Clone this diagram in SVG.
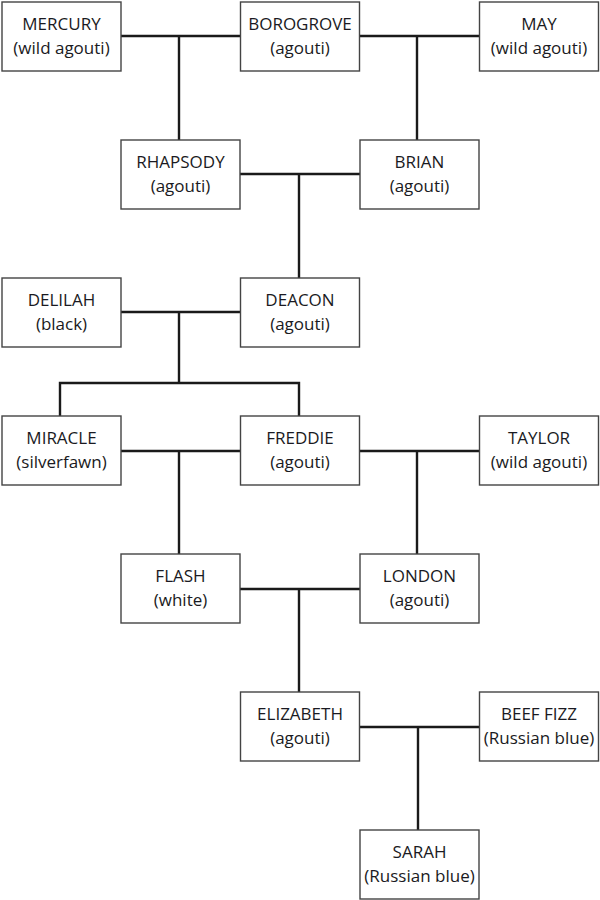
<svg xmlns="http://www.w3.org/2000/svg" width="600" height="900" viewBox="0 0 600 900">
<style>
.box{fill:#fff;stroke:#444;stroke-width:1.4}
.t{font-family:"Open Sans","Noto Sans","Liberation Sans",sans-serif;font-size:17px;fill:#1a1a22;text-anchor:middle}
.c{fill:none;stroke:#1a1a1a;stroke-width:2.4}
</style>
<rect width="600" height="900" fill="#fff"/>
<g id="connectors">
<path class="c" d="M121 36H240M179 36V140"/>
<path class="c" d="M360 36H479M417 36V140"/>
<path class="c" d="M240 174H360M299 174V278"/>
<path class="c" d="M121 312H240M179 312V383M60 416V383H299V416"/>
<path class="c" d="M121 451H240M179 451V554"/>
<path class="c" d="M360 451H479M417 451V554"/>
<path class="c" d="M240 589H360M299 589V692"/>
<path class="c" d="M360 727H479M418 727V830"/>
</g>
<g id="mercury"><rect class="box" x="2" y="2" width="119" height="69"/><text class="t" x="61.5" y="30">MERCURY</text><text class="t" x="61.5" y="54">(wild agouti)</text></g>
<g id="borogrove"><rect class="box" x="240.5" y="2" width="119" height="69"/><text class="t" x="300" y="30">BOROGROVE</text><text class="t" x="300" y="54">(agouti)</text></g>
<g id="may"><rect class="box" x="479.5" y="2" width="119" height="69"/><text class="t" x="539" y="30">MAY</text><text class="t" x="539" y="54">(wild agouti)</text></g>
<g id="rhapsody"><rect class="box" x="121" y="140" width="119" height="69"/><text class="t" x="180.5" y="168">RHAPSODY</text><text class="t" x="180.5" y="192">(agouti)</text></g>
<g id="brian"><rect class="box" x="360" y="140" width="119" height="69"/><text class="t" x="419.5" y="168">BRIAN</text><text class="t" x="419.5" y="192">(agouti)</text></g>
<g id="delilah"><rect class="box" x="2" y="278" width="119" height="69"/><text class="t" x="61.5" y="306">DELILAH</text><text class="t" x="61.5" y="330">(black)</text></g>
<g id="deacon"><rect class="box" x="240.5" y="278" width="119" height="69"/><text class="t" x="300" y="306">DEACON</text><text class="t" x="300" y="330">(agouti)</text></g>
<g id="miracle"><rect class="box" x="2" y="416" width="119" height="69"/><text class="t" x="61.5" y="444">MIRACLE</text><text class="t" x="61.5" y="468">(silverfawn)</text></g>
<g id="freddie"><rect class="box" x="240.5" y="416" width="119" height="69"/><text class="t" x="300" y="444">FREDDIE</text><text class="t" x="300" y="468">(agouti)</text></g>
<g id="taylor"><rect class="box" x="479.5" y="416" width="119" height="69"/><text class="t" x="539" y="444">TAYLOR</text><text class="t" x="539" y="468">(wild agouti)</text></g>
<g id="flash"><rect class="box" x="121" y="554" width="119" height="69"/><text class="t" x="180.5" y="582">FLASH</text><text class="t" x="180.5" y="606">(white)</text></g>
<g id="london"><rect class="box" x="360" y="554" width="119" height="69"/><text class="t" x="419.5" y="582">LONDON</text><text class="t" x="419.5" y="606">(agouti)</text></g>
<g id="elizabeth"><rect class="box" x="240.5" y="692" width="119" height="69"/><text class="t" x="300" y="720">ELIZABETH</text><text class="t" x="300" y="744">(agouti)</text></g>
<g id="beef-fizz"><rect class="box" x="479.5" y="692" width="119" height="69"/><text class="t" x="539" y="720">BEEF FIZZ</text><text class="t" x="539" y="744">(Russian blue)</text></g>
<g id="sarah"><rect class="box" x="360" y="830" width="119" height="69"/><text class="t" x="419.5" y="858">SARAH</text><text class="t" x="419.5" y="882">(Russian blue)</text></g>
</svg>
